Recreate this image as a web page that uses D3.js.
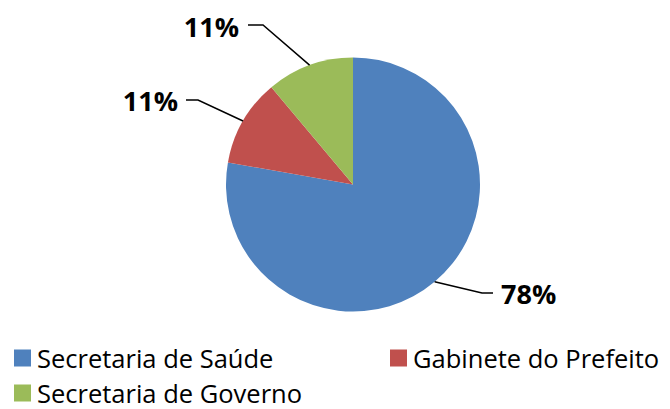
<!DOCTYPE html>
<html><head><meta charset="utf-8">
<script src="https://cdn.jsdelivr.net/npm/d3@7"></script>
<style>body{margin:0;background:#fff}svg{display:block}</style>
</head><body>
<svg id="c" width="670" height="409"></svg>
<script>
const categories = ["Secretaria de Saúde", "Gabinete do Prefeito", "Secretaria de Governo"];
const values = [7, 1, 1];
const labels = ["78%", "11%", "11%"];
const colors = ["#4F81BD", "#C0504D", "#9BBB59"];

const svg = d3.select("#c");
const cx = 353, cy = 184.5, R = 127;
const g = svg.append("g").attr("transform", `translate(${cx},${cy})`);
const pie = d3.pie().sort(null).value(d => d)(values);
const arc = d3.arc().innerRadius(0).outerRadius(R);
g.selectAll("path").data(pie).enter().append("path")
  .attr("d", arc).attr("fill", (d, i) => colors[i]);

const layout = [
  {elbow: [482, 293], end: [493, 293], tx: 501, ty: 293, anchor: "start"},
  {elbow: [198, 100], end: [186, 100], tx: 178, ty: 100, anchor: "end"},
  {elbow: [263, 25], end: [248, 25], tx: 239, ty: 26, anchor: "end"}
];
pie.forEach((d, i) => {
  const a = (d.startAngle + d.endAngle) / 2;
  const sx = cx + R * Math.sin(a), sy = cy - R * Math.cos(a);
  const L = layout[i];
  svg.append("path")
    .attr("d", `M${sx},${sy}L${L.elbow[0]},${L.elbow[1]}L${L.end[0]},${L.end[1]}`)
    .attr("fill", "none").attr("stroke", "#000").attr("stroke-width", 1.5);
  svg.append("text").attr("x", L.tx).attr("y", L.ty)
    .attr("text-anchor", L.anchor).attr("dominant-baseline", "central")
    .attr("font-family", "Open Sans").attr("font-weight", "bold")
    .attr("font-size", 27).attr("fill", "#000").text(labels[i]);
});

const legPos = [[14, 358], [390, 358], [14, 393]];
categories.forEach((c, i) => {
  const [x, y] = legPos[i];
  svg.append("rect").attr("x", x).attr("y", y - 8.5).attr("width", 17).attr("height", 17)
    .attr("fill", colors[i]);
  svg.append("text").attr("x", x + 23).attr("y", y).attr("dominant-baseline", "central")
    .attr("font-family", "Open Sans").attr("font-size", 25.5).attr("fill", "#000").text(c);
});
</script>
</body></html>
